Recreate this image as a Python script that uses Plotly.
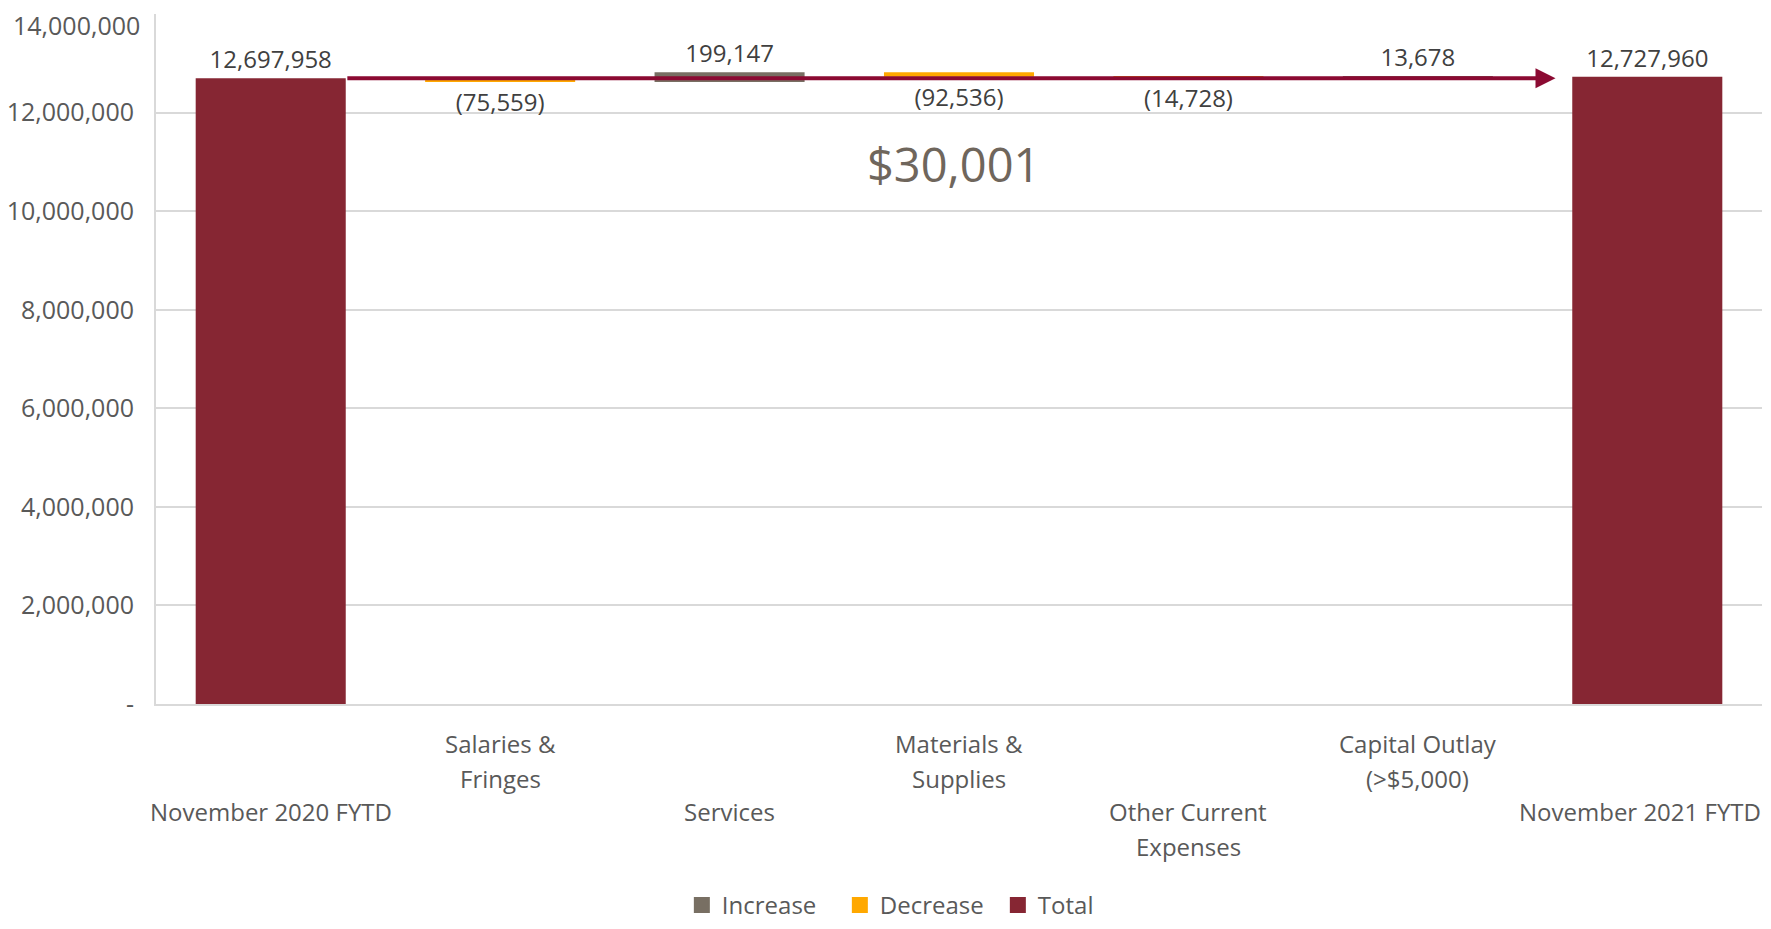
import plotly.graph_objects as go

categories = ["November 2020 FYTD", "Salaries & Fringes", "Services",
              "Materials & Supplies", "Other Current Expenses",
              "Capital Outlay (>$5,000)", "November 2021 FYTD"]
tick_labels = ["November 2020 FYTD", "Salaries &<br>Fringes", "Services",
               "Materials &<br>Supplies", "Other Current<br>Expenses",
               "Capital Outlay<br>(>$5,000)", "November 2021 FYTD"]
measures = ["absolute", "relative", "relative", "relative", "relative", "relative", "total"]
values = [12697958, -75559, 199147, -92536, -14728, 13678, 0]
totals_text = [12697958, -75559, 199147, -92536, -14728, 13678, 12727960]
y_ticks = [0, 2000000, 4000000, 6000000, 8000000, 10000000, 12000000, 14000000]
change_label = "$30,001"

FONT = "Open Sans"
TXT = "#404040"
AX = "#595959"
INC = "#786F63"
DEC = "#FFA800"
TOT = "#862633"


def fmt(v):
    if v < 0:
        return "({:,})".format(-v)
    return "{:,}".format(v)


fig = go.Figure()
fig.add_trace(go.Waterfall(
    x=categories, y=values, measure=measures,
    text=[fmt(v) for v in totals_text], textposition="outside",
    textfont=dict(family=FONT, size=24, color=TXT),
    increasing=dict(marker=dict(color=INC)),
    decreasing=dict(marker=dict(color=DEC)),
    totals=dict(marker=dict(color=TOT)),
    connector=dict(visible=False),
    showlegend=False, cliponaxis=False,
))

# legend entries
for name, col in [("Increase", INC), ("Decrease", DEC), ("Total", TOT)]:
    fig.add_trace(go.Scatter(x=[None], y=[None], mode="markers", name=name,
                             marker=dict(symbol="square", size=16, color=col)))

anns = []
# staggered category labels (Excel style)
for i, lab in enumerate(tick_labels):
    top = -21 if i % 2 == 1 else -89
    shift = -7 if i == len(tick_labels) - 1 else 0
    for j, line in enumerate(lab.split("<br>")):
        anns.append(dict(x=i, y=0, xref="x", yref="paper", text=line, showarrow=False,
                         yanchor="top", yshift=top - j * 35, xshift=shift,
                         font=dict(family=FONT, size=24, color=AX)))

# top tick label nudged down so it is not clipped by the page edge
anns.append(dict(x=0, y=y_ticks[-1], xref="paper", yref="y", text="{:,}".format(y_ticks[-1]),
                 showarrow=False, xanchor="right", yanchor="middle", xshift=-15, yshift=-11,
                 borderpad=0, font=dict(family=FONT, size=25, color=AX)))

# arrow from start total to end total
anns.append(dict(x=5.6, y=totals_text[0], ax=0.3275, ay=totals_text[0],
                 xref="x", yref="y", axref="x", ayref="y", text="",
                 showarrow=True, arrowhead=2, arrowsize=1, arrowwidth=4,
                 arrowcolor="#8B0A32"))
anns.append(dict(x=3.0, y=10950000, xref="x", yref="y", text=change_label, showarrow=False,
                 xshift=-6, font=dict(family=FONT, size=47, color="#6F665C")))

# page body has an 8px margin, so the figure is sized to fit inside the window
fig.update_layout(
    width=1755, height=913,
    margin=dict(l=148, r=1, t=6, b=217, autoexpand=False),
    paper_bgcolor="white", plot_bgcolor="white",
    waterfallgap=0.346,
    annotations=anns,
    font=dict(family=FONT, color=AX),
    legend=dict(orientation="h", x=0.475, xanchor="center", y=-0.3246, yanchor="bottom",
                font=dict(family=FONT, size=24, color=AX), itemwidth=30,
                entrywidth=113, entrywidthmode="pixels",
                bgcolor="rgba(0,0,0,0)"),
    xaxis=dict(showticklabels=False, showline=True, linecolor="#D9D9D9", linewidth=2,
               showgrid=False, range=[-0.5, 6.5]),
    yaxis=dict(range=[0, 14004000], tickvals=y_ticks,
               ticktext=["-"] + ["{:,}".format(v) for v in y_ticks[1:-1]] + [""],
               showline=True, linecolor="#D9D9D9", linewidth=2,
               gridcolor="#D9D9D9", gridwidth=2, zeroline=False,
               ticks="", ticklabelstandoff=15,
               tickfont=dict(family=FONT, size=25, color=AX)),
)

fig.write_html("out.html")
